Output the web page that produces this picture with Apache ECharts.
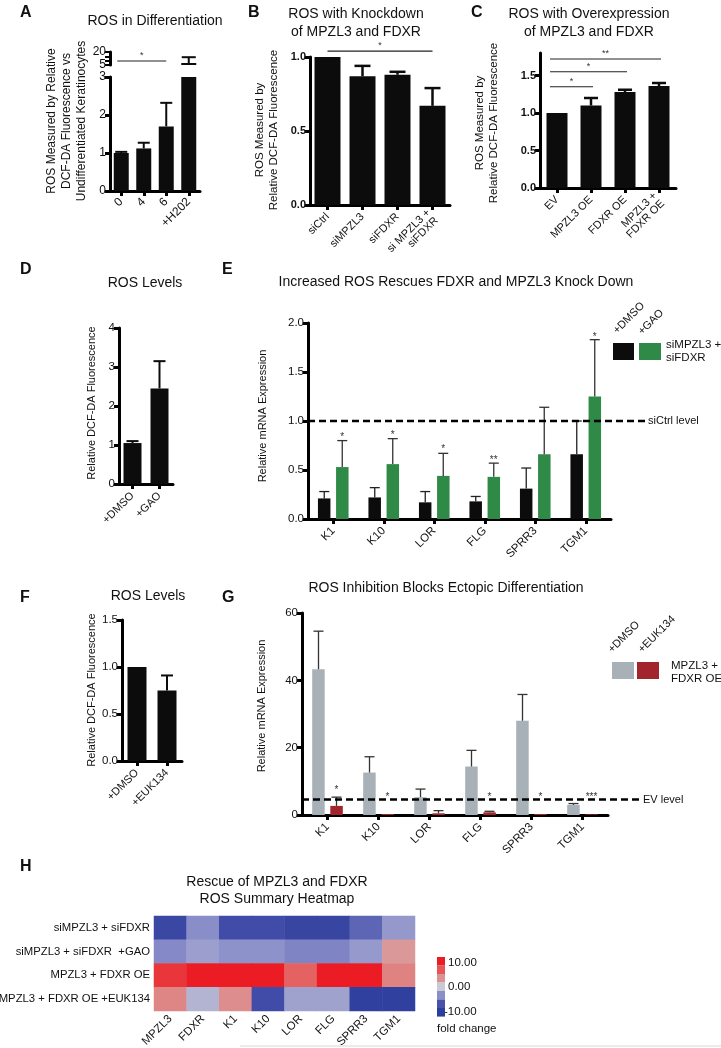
<!DOCTYPE html>
<html><head><meta charset="utf-8">
<script src="https://cdn.jsdelivr.net/npm/echarts@6/dist/echarts.min.js"></script>
<style>html,body{margin:0;padding:0;background:#fff}#c{width:721px;height:1048px}</style>
</head><body><div id="c"></div>
<script>
// ---------- DATA ----------
const aCats = ['0', '4', '6', '+H202'];
const aMean = [1.0, 1.12, 1.7, 7.3];
const aErr = [1.03, 1.27, 2.32, 14];
const aSig = [[0, 2, 9.6]];
const aSigText = ['*'];

const bCats = ['siCtrl', 'siMPZL3', 'siFDXR', 'si MPZL3 +\nsiFDXR'];
const bMean = [1.0, 0.87, 0.88, 0.67];
const bErr = [1.0, 0.94, 0.90, 0.79];
const bSig = [[0, 3, 1.04]];
const bSigText = ['*'];

const cCats = ['EV', 'MPZL3 OE', 'FDXR OE', 'MPZL3 +\nFDXR OE'];
const cMean = [1.0, 1.10, 1.28, 1.36];
const cErr = [1.0, 1.20, 1.31, 1.40];
const cSig = [[0, 1, 1.35], [0, 2, 1.55], [0, 3, 1.72]];
const cSigText = ['*', '*', '**'];

const dCats = ['+DMSO', '+GAO'];
const dMean = [1.05, 2.45];
const dErr = [1.10, 3.15];

const eCats = ['K1', 'K10', 'LOR', 'FLG', 'SPRR3', 'TGM1'];
const eDmso = [0.21, 0.22, 0.17, 0.18, 0.31, 0.66];
const eDmsoErr = [0.28, 0.32, 0.28, 0.23, 0.52, 1.00];
const eGao = [0.53, 0.56, 0.44, 0.43, 0.66, 1.25];
const eGaoErr = [0.80, 0.82, 0.67, 0.57, 1.14, 1.83];
const eStars = ['*', '*', '*', '**', '', '*'];
const eStarY = [0.88, 0.90, 0.75, 0.64, null, 1.90];
const eRefLevel = 1.0;

const fCats = ['+DMSO', '+EUK134'];
const fMean = [1.0, 0.75];
const fErr = [1.0, 0.91];

const gCats = ['K1', 'K10', 'LOR', 'FLG', 'SPRR3', 'TGM1'];
const gDmso = [43.3, 12.6, 5.3, 14.4, 28.0, 3.0];
const gDmsoErr = [54.6, 17.3, 7.7, 19.2, 35.8, 3.4];
const gEuk = [2.7, 0.3, 0.5, 0.8, 0.3, 0.2];
const gEukErr = [5.3, 0.4, 1.3, 1.1, 0.4, 0.3];
const gStars = ['*', '*', '', '*', '*', '***'];
const gStarY = [8.6, 6.6, null, 6.6, 6.6, 6.6];
const gRefLevel = 4.6;

const hRows = ['siMPZL3 + siFDXR', 'siMPZL3 + siFDXR  +GAO', 'MPZL3 + FDXR OE', 'MPZL3 + FDXR OE +EUK134'];
const hCols = ['MPZL3', 'FDXR', 'K1', 'K10', 'LOR', 'FLG', 'SPRR3', 'TGM1'];
const hRow1 = [-8.3, -3.4, -7.6, -7.6, -8.6, -8.6, -5.6, -2.8];
const hRow2 = [-3.6, -2.4, -3.1, -3.1, -3.9, -3.9, -2.7, 3.0];
const hRow3 = [8.5, 10, 10, 10, 6.0, 10, 10, 4.2];
const hRow4 = [4.0, -1.2, 3.6, -7.6, -2.2, -2.2, -9.6, -9.6];
const hLegendTicks = ['10.00', '0.00', '-10.00'];

// ---------- STYLE ----------
const F = "'Liberation Sans', Arial, Helvetica, sans-serif";
const BLK = '#0c0c0c';
const GREEN = '#2f8a48';
const GRAY = '#a8b1b8';
const RED = '#a2242c';
const HEAT = ['#2c3e9c', '#4852ab', '#8a8ec9', '#c9cad6', '#dc9292', '#e65656', '#ec1c24'];

const M = echarts.util.merge;

const grids = [
  {left: 110, top: 77, width: 90, height: 114},   // 0 A lower
  {left: 110, top: 52, width: 90, height: 13},    // 1 A upper
  {left: 310, top: 57, width: 140, height: 148},  // 2 B
  {left: 540, top: 53, width: 136, height: 135},  // 3 C
  {left: 119, top: 328, width: 54, height: 156},  // 4 D
  {left: 308, top: 323, width: 303, height: 196}, // 5 E
  {left: 122, top: 620, width: 60, height: 141},  // 6 F
  {left: 302, top: 613, width: 306, height: 202}, // 7 G
  {left: 154, top: 916, width: 261, height: 95}   // 8 H
].map(g => Object.assign({outerBoundsMode: 'none', containLabel: false}, g));

function catX(gi, data, opts) {
  return M({gridIndex: gi, type: 'category', data: data,
    axisLine: {show: true, lineStyle: {color: '#000', width: 3}},
    axisTick: {show: true, alignWithLabel: true, length: 5, lineStyle: {color: '#000', width: 3}},
    axisLabel: {rotate: 45, fontSize: 11, color: '#111', margin: 10, fontFamily: F, interval: 0},
    splitLine: {show: false}}, opts || {}, true);
}
function valY(gi, min, max, interval, opts) {
  return M({gridIndex: gi, type: 'value', min: min, max: max, interval: interval,
    axisLine: {show: true, lineStyle: {color: '#000', width: 3}},
    axisTick: {show: true, length: 5, lineStyle: {color: '#000', width: 3}},
    axisLabel: {fontSize: 11, color: '#111', margin: 4, fontFamily: F},
    splitLine: {show: false}}, opts || {}, true);
}
function bars(i, data, color, width, extra) {
  return Object.assign({type: 'bar', xAxisIndex: i, yAxisIndex: i, data: data, barWidth: width,
    itemStyle: {color: color}, silent: true, clip: true, z: 2}, extra || {});
}
function errBars(i, means, errs, offset, half, color, lw) {
  return {type: 'custom', xAxisIndex: i, yAxisIndex: i, silent: true, z: 4,
    data: means.map((m, k) => [k, m, errs[k]]),
    encode: {x: 0, y: [1, 2]},
    renderItem: function (params, api) {
      const k = api.value(0), m = api.value(1), e = api.value(2);
      if (!(e > m)) return null;
      const cs = params.coordSys;
      const p0 = api.coord([k, m]), p1 = api.coord([k, e]);
      const top = cs.y, bot = cs.y + cs.height;
      const y0 = Math.min(Math.max(p0[1], top), bot);
      const y1 = Math.min(Math.max(p1[1], top), bot);
      if (Math.abs(y0 - y1) < 0.5) return null;
      const x = p0[0] + offset;
      const ch = [{type: 'line', shape: {x1: x, y1: y0, x2: x, y2: y1}, style: {stroke: color, lineWidth: lw}}];
      if (p1[1] >= top - 0.5) ch.push({type: 'line', shape: {x1: x - half, y1: y1, x2: x + half, y2: y1}, style: {stroke: color, lineWidth: lw}});
      return {type: 'group', children: ch};
    }};
}
function sigLines(i, sigs, texts, offL, offR, fs) {
  return {type: 'custom', xAxisIndex: i, yAxisIndex: i, silent: true, z: 5,
    data: sigs.map(s => [s[0], s[2]]),
    encode: {x: 0, y: 1},
    renderItem: function (params, api) {
      const s = sigs[params.dataIndex];
      const a = api.coord([s[0], s[2]]), b = api.coord([s[1], s[2]]);
      const x1 = a[0] + offL, x2 = b[0] + offR;
      return {type: 'group', children: [
        {type: 'line', shape: {x1: x1, y1: a[1], x2: x2, y2: a[1]}, style: {stroke: '#222', lineWidth: 1.2}},
        {type: 'text', x: (x1 + x2) / 2, y: a[1] - 1, style: {text: texts[params.dataIndex], fontSize: fs, fontFamily: F, fill: '#333', align: 'center', verticalAlign: 'bottom'}}
      ]};
    }};
}
function stars(i, ys, texts, offset) {
  const idx = [];
  ys.forEach((y, k) => { if (y != null) idx.push(k); });
  return {type: 'custom', xAxisIndex: i, yAxisIndex: i, silent: true, z: 5,
    data: idx.map(k => [k, ys[k]]),
    encode: {x: 0, y: 1},
    renderItem: function (params, api) {
      const k = api.value(0);
      const p = api.coord([k, api.value(1)]);
      return {type: 'text', x: p[0] + offset, y: p[1] + 4, style: {text: texts[k], fontSize: 10, fontFamily: F, fill: '#333', align: 'center', verticalAlign: 'middle'}};
    }};
}
function refLine(i, level, label, ext) {
  return {type: 'custom', xAxisIndex: i, yAxisIndex: i, silent: true, z: 6,
    data: [[0, level]], encode: {x: 0, y: 1},
    renderItem: function (params, api) {
      const cs = params.coordSys;
      const y = api.coord([0, api.value(1)])[1];
      return {type: 'group', children: [
        {type: 'line', shape: {x1: cs.x, y1: y, x2: cs.x + cs.width + ext, y2: y}, style: {stroke: '#000', lineWidth: 2.5, lineDash: [7, 4]}},
        {type: 'text', x: cs.x + cs.width + ext + 3, y: y, style: {text: label, fontSize: 11, fontFamily: F, fill: '#111', align: 'left', verticalAlign: 'middle'}}
      ]};
    }};
}

const xAxes = [
  catX(0, aCats, {axisLabel: {fontSize: 12, margin: 9}}),
  catX(1, aCats, {show: false}),
  catX(2, bCats),
  catX(3, cCats),
  catX(4, dCats),
  catX(5, eCats, {axisLabel: {fontSize: 11.5}}),
  catX(6, fCats),
  catX(7, gCats, {axisLabel: {fontSize: 11.5}}),
  {gridIndex: 8, type: 'category', data: hCols, axisLine: {show: false}, axisTick: {show: false},
    axisLabel: {rotate: 45, fontSize: 11.5, color: '#111', margin: 6, fontFamily: F, interval: 0}, splitLine: {show: false}}
];
const bold = {axisLabel: {fontWeight: 'bold', formatter: v => v.toFixed(1)}};
const yAxes = [
  valY(0, 0, 3, 1, {axisLabel: {fontSize: 12}}),
  valY(1, 5, 20, 5, {axisLabel: {fontSize: 12, customValues: [5, 20]}, axisTick: {length: 5, lineStyle: {width: 2}}}),
  valY(2, 0, 1, 0.5, bold),
  valY(3, 0, 1.8, 0.5, {axisLabel: {fontWeight: 'bold', formatter: v => v.toFixed(1), customValues: [0, 0.5, 1, 1.5]}, axisTick: {customValues: [0, 0.5, 1, 1.5]}}),
  valY(4, 0, 4, 1, {axisLabel: {fontSize: 11.5}}),
  valY(5, 0, 2, 0.5, {axisLabel: {fontSize: 11.5, formatter: v => v.toFixed(1)}}),
  valY(6, 0, 1.5, 0.5, {axisLabel: {fontSize: 11.5, formatter: v => v.toFixed(1)}}),
  valY(7, 0, 60, 20, {axisLabel: {fontSize: 11.5}}),
  {gridIndex: 8, type: 'category', data: hRows, inverse: true, axisLine: {show: false}, axisTick: {show: false},
    axisLabel: {fontSize: 11.3, color: '#111', margin: 4, fontFamily: F}, splitLine: {show: false}}
];

const heatData = [];
[hRow1, hRow2, hRow3, hRow4].forEach((row, r) => row.forEach((v, c) => heatData.push([c, r, v])));

const series = [
  bars(0, aMean, BLK, 15), errBars(0, aMean, aErr, 0, 6, BLK, 2),
  bars(1, aMean, BLK, 15), errBars(1, aMean, aErr, 0, 7, BLK, 2),
  sigLines(1, aSig, aSigText, -4, 0, 9),
  bars(2, bMean, BLK, 26), errBars(2, bMean, bErr, 0, 8, BLK, 2.5),
  sigLines(2, bSig, bSigText, 0, 0, 9),
  bars(3, cMean, BLK, 21), errBars(3, cMean, cErr, 0, 7, BLK, 2.5),
  sigLines(3, cSig, cSigText, -7, 2, 9),
  bars(4, dMean, BLK, 18), errBars(4, dMean, dErr, 0, 6, BLK, 2),
  bars(5, eDmso, BLK, 12.5, {barGap: '45%'}), bars(5, eGao, GREEN, 12.5, {barGap: '45%'}),
  errBars(5, eDmso, eDmsoErr, -9, 5, '#222', 1.3), errBars(5, eGao, eGaoErr, 9, 5, '#333', 1.3),
  stars(5, eStarY, eStars, 9), refLine(5, eRefLevel, 'siCtrl level', 34),
  bars(6, fMean, BLK, 19), errBars(6, fMean, fErr, 0, 6, BLK, 2),
  bars(7, gDmso, GRAY, 12.5, {barGap: '45%'}), bars(7, gEuk, RED, 12.5, {barGap: '45%'}),
  errBars(7, gDmso, gDmsoErr, -9, 5, '#333', 1.3), errBars(7, gEuk, gEukErr, 9, 5, '#333', 1.3),
  stars(7, gStarY, gStars, 9), refLine(7, gRefLevel, 'EV level', 32),
  {type: 'heatmap', xAxisIndex: 8, yAxisIndex: 8, data: heatData, silent: true, itemStyle: {borderWidth: 0}}
];
const heatIdx = series.length - 1;

function T(x, y, text, size, o) {
  o = o || {};
  return {type: 'text', x: x, y: y, rotation: o.rot || 0, silent: true,
    style: {text: text, fontSize: size, fontFamily: F, fill: o.fill || '#111', fontWeight: o.bold ? 'bold' : 'normal',
      align: o.align || 'center', verticalAlign: o.va || 'middle', lineHeight: o.lh || Math.round(size * 1.25)}};
}
const R90 = Math.PI / 2, R45 = Math.PI / 4;
const graphics = [
  // panel letters
  T(20, 3, 'A', 16, {bold: true, align: 'left', va: 'top'}),
  T(248, 3, 'B', 16, {bold: true, align: 'left', va: 'top'}),
  T(471, 3, 'C', 16, {bold: true, align: 'left', va: 'top'}),
  T(20, 260, 'D', 16, {bold: true, align: 'left', va: 'top'}),
  T(222, 260, 'E', 16, {bold: true, align: 'left', va: 'top'}),
  T(20, 588, 'F', 16, {bold: true, align: 'left', va: 'top'}),
  T(222, 588, 'G', 16, {bold: true, align: 'left', va: 'top'}),
  T(20, 857, 'H', 16, {bold: true, align: 'left', va: 'top'}),
  // titles
  T(155, 21, 'ROS in Differentiation', 14),
  T(356, 23, 'ROS with Knockdown\nof MPZL3 and FDXR', 14, {lh: 18}),
  T(589, 23, 'ROS with Overexpression\nof MPZL3 and FDXR', 14, {lh: 18}),
  T(145, 283, 'ROS Levels', 14),
  T(456, 282, 'Increased ROS Rescues FDXR and MPZL3 Knock Down', 14),
  T(148, 596, 'ROS Levels', 14),
  T(446, 588, 'ROS Inhibition Blocks Ectopic Differentiation', 14),
  T(277, 891, 'Rescue of MPZL3 and FDXR\nROS Summary Heatmap', 14, {lh: 17}),
  // y-axis names
  T(67, 121, 'ROS Measured by Relative\nDCF-DA Fluorescence vs\nUndifferentiated Keratinocytes', 12, {rot: R90, lh: 15}),
  T(267, 130, 'ROS Measured by\nRelative DCF-DA Fluorescence', 11.5, {rot: R90, lh: 13.5}),
  T(487, 123, 'ROS Measured by\nRelative DCF-DA Fluorescence', 11.5, {rot: R90, lh: 13.5}),
  T(92, 403, 'Relative DCF-DA Fluorescence', 11, {rot: R90}),
  T(263, 416, 'Relative mRNA Expression', 11, {rot: R90}),
  T(92, 690, 'Relative DCF-DA Fluorescence', 11, {rot: R90}),
  T(262, 706, 'Relative mRNA Expression', 11, {rot: R90}),
  // legend E
  {type: 'rect', shape: {x: 613, y: 343, width: 21, height: 17}, style: {fill: BLK}, silent: true},
  {type: 'rect', shape: {x: 639, y: 343, width: 22, height: 17}, style: {fill: GREEN}, silent: true},
  T(620, 337, '+DMSO', 11, {rot: R45, align: 'left', va: 'bottom'}),
  T(645, 338, '+GAO', 11, {rot: R45, align: 'left', va: 'bottom'}),
  T(666, 351, 'siMPZL3 +\nsiFDXR', 11.5, {align: 'left', lh: 13}),
  // legend G
  {type: 'rect', shape: {x: 612, y: 662, width: 22, height: 17}, style: {fill: GRAY}, silent: true},
  {type: 'rect', shape: {x: 637, y: 662, width: 22, height: 17}, style: {fill: RED}, silent: true},
  T(615, 656, '+DMSO', 11, {rot: R45, align: 'left', va: 'bottom'}),
  T(645, 656, '+EUK134', 11, {rot: R45, align: 'left', va: 'bottom'}),
  T(671, 672, 'MPZL3 +\nFDXR OE', 11.5, {align: 'left', lh: 13}),
  // heatmap legend text
  T(448, 963, hLegendTicks[0], 11.5, {align: 'left'}),
  T(448, 987, hLegendTicks[1], 11.5, {align: 'left'}),
  T(444, 1012, hLegendTicks[2], 11.5, {align: 'left'}),
  T(437, 1029, 'fold change', 11.5, {align: 'left'}),
  {type: 'line', shape: {x1: 240, y1: 1046, x2: 721, y2: 1046}, style: {stroke: '#d8d8d8', lineWidth: 1}, silent: true}
];
// heatmap legend colour steps (top = high)
const steps = HEAT.slice().reverse();
steps.forEach((c, k) => graphics.push({type: 'rect', silent: true,
  shape: {x: 437, y: 957 + k * 8.5, width: 8, height: 8.6}, style: {fill: c}}));

const chart = echarts.init(document.getElementById('c'));
chart.setOption({
  animation: false,
  backgroundColor: '#fff',
  textStyle: {fontFamily: F},
  grid: grids,
  xAxis: xAxes,
  yAxis: yAxes,
  visualMap: {type: 'continuous', min: -10, max: 10, show: false, seriesIndex: heatIdx, inRange: {color: HEAT}},
  series: series,
  graphic: graphics
});
</script>
</body></html>
